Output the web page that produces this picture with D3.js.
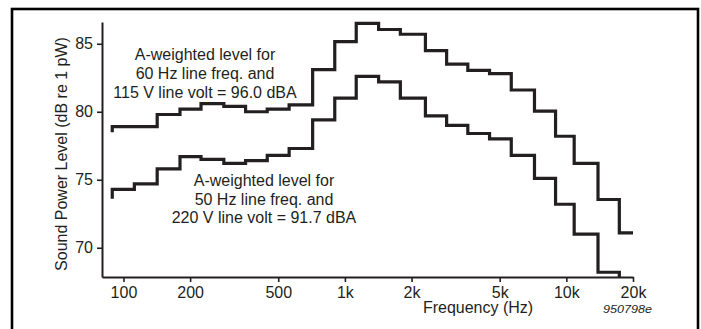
<!DOCTYPE html>
<html>
<head>
<meta charset="utf-8">
<script src="https://cdn.jsdelivr.net/npm/d3@7"></script>
<style>
  body { margin: 0; background: #fff; }
  svg { display: block; }
  text { font-family: Arial, "Liberation Sans", Helvetica, sans-serif; fill: #231f20; }
</style>
</head>
<body>
<script>

// 1/3-octave band edges in Hz
var bandEdges = [89, 112, 142, 180, 224, 284, 356, 446, 560, 715, 900, 1125, 1420, 1780,
                 2310, 2880, 3590, 4500, 5640, 7180, 8940, 10850, 13900, 17350, 20000];

// 60 Hz / 115 V curve, one level per band (100 Hz .. 20 kHz)
var upperLevels = [78.9, 78.9, 79.8, 80.2, 80.6, 80.4, 80.0, 80.2, 80.5, 83.1, 85.15, 86.5,
                   86.05, 85.7, 84.5, 83.5, 83.05, 82.8, 81.6, 80.05, 78.2, 76.2, 73.55, 71.1];
var upperStart = 78.5;

// 50 Hz / 220 V curve (100 Hz .. 16 kHz)
var lowerLevels = [74.3, 74.7, 75.8, 76.7, 76.5, 76.2, 76.4, 76.8, 77.3, 79.4, 81.0, 82.6,
                   82.2, 81.0, 79.7, 79.0, 78.4, 78.0, 76.8, 75.1, 73.2, 71.0, 68.2];
var lowerStart = 73.6;

var xTicks = [100, 200, 500, 1000, 2000, 5000, 10000, 20000];
var xTickLabels = ["100", "200", "500", "1k", "2k", "5k", "10k", "20k"];
var yTicks = [70, 75, 80, 85];

var upperNote = ["A-weighted level for", "60 Hz line freq. and", "115 V line volt = 96.0 dBA"];
var lowerNote = ["A-weighted level for", "50 Hz line freq. and", "220 V line volt = 91.7 dBA"];

var width = 701;
var height = 329;

var svg = d3.select("body")
  .append("svg")
  .attr("width", width)
  .attr("height", height);

// frame round the figure (bottom edge runs off the picture)
svg.append("rect")
  .attr("x", 12)
  .attr("y", 9)
  .attr("width", 686)
  .attr("height", 400)
  .style("fill", "none")
  .style("stroke", "#000")
  .style("stroke-width", 2.6);

var x = d3.scaleLog()
  .domain([80, 20000])
  .range([102, 633]);

var y = d3.scaleLinear()
  .domain([67.85, 86.6])
  .range([277, 22]);

function stepPoints(levels, start, dropToAxis){
  var pts = [[bandEdges[0], start]];
  levels.forEach(function(v, i){
    pts.push([bandEdges[i], v]);
  });
  var last = levels.length;
  pts.push([bandEdges[last], levels[last - 1]]);
  if (dropToAxis) pts.push([bandEdges[last], y.domain()[0]]);
  return pts;
}

var line = d3.line()
  .x(d => x(d[0]))
  .y(d => y(d[1]))
  .curve(d3.curveStepAfter);

var curves = svg.append("g").attr("class", "curves");

curves.append("path")
  .datum(stepPoints(upperLevels, upperStart, false))
  .attr("d", line);

curves.append("path")
  .datum(stepPoints(lowerLevels, lowerStart, true))
  .attr("d", line);

curves.selectAll("path")
  .style("fill", "none")
  .style("stroke", "#231f20")
  .style("stroke-width", 3.2)
  .style("stroke-linejoin", "miter")
  .style("stroke-linecap", "butt");

// axes
var yAxis = svg.append("g")
  .attr("transform", "translate(102,0)")
  .call(d3.axisLeft(y).tickValues(yTicks).tickSize(5).tickSizeOuter(0).tickPadding(4));

var xAxis = svg.append("g")
  .attr("transform", "translate(0,277)")
  .call(d3.axisBottom(x).tickValues(xTicks).tickSize(5).tickSizeOuter(0).tickPadding(4.5)
    .tickFormat((d, i) => xTickLabels[i]));

svg.selectAll(".domain")
  .style("stroke", "#231f20")
  .style("stroke-width", 2);

svg.selectAll(".tick line")
  .style("stroke", "#231f20")
  .style("stroke-width", 1.6);

svg.selectAll(".tick text")
  .attr("font-family", null)
  .style("font-size", "16px")
  .style("fill", "#231f20");

// axis titles
svg.append("text")
  .attr("x", 478)
  .attr("y", 313)
  .attr("text-anchor", "middle")
  .style("font-size", "16px")
  .text("Frequency (Hz)");

svg.append("text")
  .attr("transform", "translate(67,154) rotate(-90)")
  .attr("text-anchor", "middle")
  .style("font-size", "16px")
  .text("Sound Power Level (dB re 1 pW)");

svg.append("text")
  .attr("x", 603)
  .attr("y", 313)
  .attr("textLength", 49)
  .attr("lengthAdjust", "spacingAndGlyphs")
  .style("font-size", "10px")
  .style("font-style", "italic")
  .text("950798e");

// annotations
svg.append("g")
  .selectAll("text")
  .data(upperNote)
  .enter()
  .append("text")
  .attr("x", 205)
  .attr("y", (d, i) => 60 + i * 19)
  .attr("text-anchor", "middle")
  .style("font-size", "16px")
  .text(d => d);

svg.append("g")
  .selectAll("text")
  .data(lowerNote)
  .enter()
  .append("text")
  .attr("x", 264)
  .attr("y", (d, i) => 186 + i * 18.7)
  .attr("text-anchor", "middle")
  .style("font-size", "16px")
  .text(d => d);

</script>
</body>
</html>
